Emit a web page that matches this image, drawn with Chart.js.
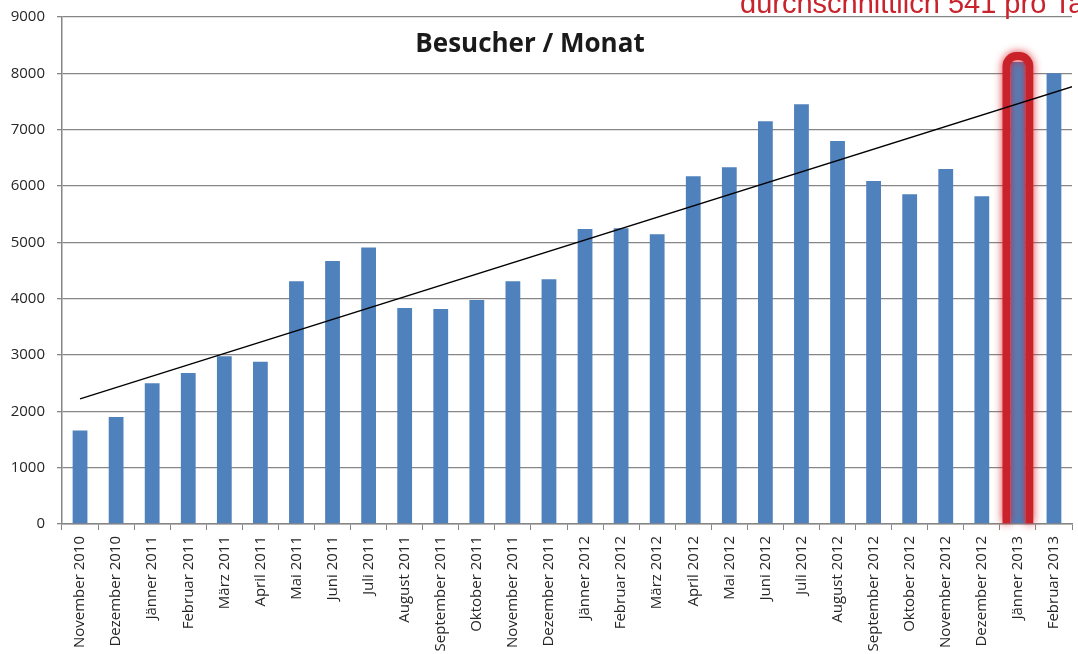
<!DOCTYPE html>
<html>
<head>
<meta charset="utf-8">
<script src="https://cdn.jsdelivr.net/npm/chart.js@4.4.1/dist/chart.umd.min.js"></script>
<style>
    html, body { margin: 0; padding: 0; background: #fff; overflow: hidden; }
    #wrap { position: relative; width: 1078px; height: 654px; overflow: hidden; }
    #note {
        position: absolute; left: 740px; top: -11px; white-space: nowrap;
        font: 29px/29px "Liberation Sans", Arial, sans-serif; color: #c9232d;
    }
    #title {
        position: absolute; left: 0; width: 1060px; top: 29px; text-align: center;
        font: bold 26px/26px "Open Sans", sans-serif; color: #1a1a1a;
    }
</style>
</head>
<body>
<div id="wrap">
    <canvas id="visitorChart" width="1078" height="654"></canvas>
    <div id="note">durchschnittlich 541 pro Tag</div>
    <div id="title">Besucher / Monat</div>
</div>
<script>
// Monate (Kategorien)
const months = [
    'November 2010', 'Dezember 2010', 'Jänner 2011', 'Februar 2011', 'März 2011', 'April 2011',
    'Mai 2011', 'Juni 2011', 'Juli 2011', 'August 2011', 'September 2011', 'Oktober 2011',
    'November 2011', 'Dezember 2011', 'Jänner 2012', 'Februar 2012', 'März 2012', 'April 2012',
    'Mai 2012', 'Juni 2012', 'Juli 2012', 'August 2012', 'September 2012', 'Oktober 2012',
    'November 2012', 'Dezember 2012', 'Jänner 2013', 'Februar 2013'
];

// Besucher pro Monat
const visitors = [
    1660, 1900, 2500, 2680, 2980, 2880,
    4310, 4670, 4910, 3835, 3815, 3975,
    4310, 4345, 5235, 5250, 5145, 6175,
    6335, 7150, 7450, 6800, 6090, 5855,
    6300, 5820, 8200, 8000
];

// Trendlinie: Start- und Endpunkt (Kategorie-Index, Wert)
const trendIndex = [0, 27.57];
const trendValue = [2220, 7775];

// Y-Achse
const yMax = 9000;
const yStep = 1000;

// hervorgehobener Monat
const highlightIndex = 26;

const axisGray = '#868686';
const textColor = '#262626';

// roter Rahmen um den hervorgehobenen Balken
const highlightPlugin = {
    id: 'highlight',
    afterDatasetDraw(chart, args) {
        if (args.index !== 0) return;
        const bar = chart.getDatasetMeta(0).data[highlightIndex];
        if (!bar) return;
        const ctx = chart.ctx;
        const half = bar.width / 2;
        const left = bar.x - half - 4;
        const right = bar.x + half + 4;
        const top = bar.y - 6;
        const bottom = bar.base;
        const r = 10;
        ctx.save();
        ctx.strokeStyle = '#c9222b';
        ctx.lineWidth = 8;
        ctx.shadowColor = 'rgba(220, 30, 40, 0.9)';
        ctx.shadowBlur = 8;
        ctx.beginPath();
        ctx.moveTo(left, bottom);
        ctx.lineTo(left, top + r);
        ctx.arcTo(left, top, left + r, top, r);
        ctx.lineTo(right - r, top);
        ctx.arcTo(right, top, right, top + r, r);
        ctx.lineTo(right, bottom);
        ctx.stroke();
        ctx.restore();
    }
};

const ctx = document.getElementById('visitorChart').getContext('2d');
new Chart(ctx, {
    data: {
        labels: months,
        datasets: [
            {
                type: 'bar',
                label: 'Besucher',
                data: visitors,
                backgroundColor: '#4f81bd',
                borderWidth: 0,
                grouped: false,
                categoryPercentage: 1,
                barPercentage: 0.41,
                xAxisID: 'x',
                order: 2
            },
            {
                type: 'line',
                label: 'Trend',
                data: trendIndex.map((x, i) => ({ x: x, y: trendValue[i] })),
                borderColor: '#000',
                borderWidth: 1.3,
                pointRadius: 0,
                fill: false,
                xAxisID: 'xTrend',
                order: 1
            }
        ]
    },
    options: {
        responsive: false,
        animation: false,
        layout: { padding: { top: 17, right: 2, left: 0, bottom: 0 } },
        plugins: {
            legend: { display: false },
            title: { display: false },
            tooltip: { enabled: false }
        },
        scales: {
            x: {
                type: 'category',
                offset: true,
                afterFit(scale) { scale.height = 130; },
                grid: {
                    offset: true,
                    drawOnChartArea: false,
                    drawTicks: true,
                    tickLength: 6,
                    color: axisGray
                },
                border: { color: axisGray, width: 1.5 },
                ticks: {
                    color: textColor,
                    autoSkip: false,
                    maxRotation: 90,
                    minRotation: 90,
                    padding: 6,
                    font: { family: 'Open Sans', size: 15 }
                }
            },
            xTrend: {
                type: 'linear',
                display: false,
                min: -0.5,
                max: months.length - 0.5
            },
            y: {
                min: 0,
                max: yMax,
                afterFit(scale) {
                    scale.width = 62;
                    scale.paddingTop = 0;
                    scale.paddingBottom = 0;
                },
                grid: {
                    color: axisGray,
                    lineWidth: 1.3,
                    tickLength: 5
                },
                border: { color: axisGray, width: 1.5 },
                ticks: {
                    stepSize: yStep,
                    color: textColor,
                    padding: 12,
                    font: { family: 'Open Sans', size: 15 },
                    callback: function(value) {
                        return String(value);
                    }
                }
            }
        }
    },
    plugins: [highlightPlugin]
});
</script>
</body>
</html>
